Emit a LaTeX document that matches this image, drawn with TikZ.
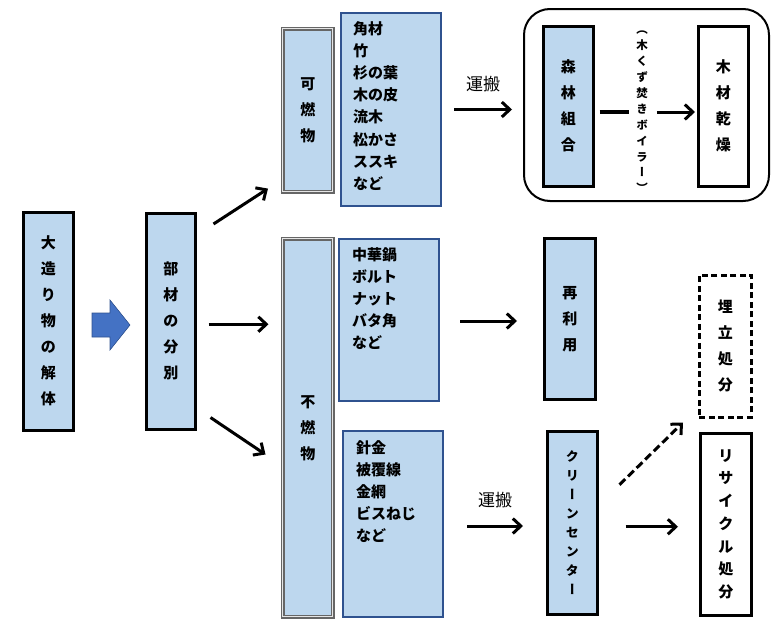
\documentclass[tikz,border=0pt]{standalone}
\usepackage{fontspec}
\newfontfamily\jp{Noto Sans CJK JP}
\newfontfamily\jpv[RawFeature=+vert]{Noto Sans CJK JP}
\usetikzlibrary{arrows.meta,calc}

\definecolor{boxblue}{RGB}{189,215,238}
\definecolor{listedge}{RGB}{47,82,143}
\definecolor{arrowblue}{RGB}{68,114,196}

\tikzset{
	base/.style={anchor=north west, inner sep=0pt, align=center, font=\jp\bfseries\fontsize{15}{26}\selectfont},
	bluebox/.style={base, draw=black, line width=2.5pt, fill=boxblue},
	whitebox/.style={base, draw=black, line width=2.5pt, fill=white},
	kindbox/.style={base, draw=black!60, line width=1.6pt, double=black!10, double distance=0.7pt, fill=boxblue},
	listbox/.style={anchor=north west, draw=listedge, line width=2pt, fill=boxblue},
	listtext/.style={anchor=north west, align=left, inner sep=0pt, font=\jp\bfseries\fontsize{15}{22.2}\selectfont},
	carrylabel/.style={font=\jp\fontsize{17}{19}\selectfont},
	arr/.style={line width=3pt, -{Straight Barb[length=8pt,width=15pt]}},
}

\begin{document}
\begin{tikzpicture}[x=1pt,y=-1pt]
	\useasboundingbox (0,0) rectangle (779,629);

	% left column
	\node[bluebox, minimum width=50pt, minimum height=218pt] (kaitai) at (22,211) {大\\造\\り\\物\\の\\解\\体};
	\node[bluebox, minimum width=49pt, minimum height=216pt] (bunbetsu) at (145,212) {部\\材\\の\\分\\別};
	\fill[arrowblue, draw=listedge, line width=0.6pt] (92,313) -- (110,313) -- (110,300) -- (130,325) -- (110,350) -- (110,337) -- (92,337) -- cycle; % block arrow

	% combustible / non-combustible
	\node[kindbox, minimum width=50pt, minimum height=163pt] (kanen) at (282,28) {可\\燃\\物};
	\node[kindbox, minimum width=50pt, minimum height=378pt] (funen) at (282,238) {不\\燃\\物};

	% item lists
	\node[listbox, minimum width=100pt, minimum height=193pt] (list1) at (340,12) {};
	\node[listtext] (items1) at ($(list1.north west)+(13,9)$) {角材\\竹\\杉の葉\\木の皮\\流木\\松かさ\\ススキ\\など};
	\node[listbox, minimum width=100pt, minimum height=162pt] (list2) at (338,238) {};
	\node[listtext] (items2) at ($(list2.north west)+(14,9)$) {中華鍋\\ボルト\\ナット\\バタ角\\など};
	\node[listbox, minimum width=100pt, minimum height=186pt] (list3) at (342,430) {};
	\node[listtext] (items3) at ($(list3.north west)+(14,10)$) {針金\\被覆線\\金網\\ビスねじ\\など};

	% wood route
	\node[draw, line width=2pt, rounded corners=26pt, anchor=north west, minimum width=245pt, minimum height=192pt] (group) at (523,8) {};
	\node[bluebox, minimum width=50pt, minimum height=160pt] (shinrin) at (542,25) {森\\林\\組\\合};
	\node[whitebox, minimum width=50pt, minimum height=160pt] (mokuzai) at (697,25) {木\\材\\乾\\燥};
	\node[align=center, inner sep=0pt, font=\jpv\bfseries\fontsize{11.5}{15.9}\selectfont] (boiler) at (642,112) {（\\木\\く\\ず\\焚\\き\\ボ\\イ\\ラ\\ー\\）};

	% recycle route
	\node[bluebox, minimum width=51pt, minimum height=161pt] (saiyou) at (543,237) {再\\利\\用};
	\node[bluebox, minimum width=50pt, minimum height=183pt, font=\jpv\bfseries\fontsize{13}{19}\selectfont] (clean) at (546,430) {ク\\リ\\ー\\ン\\セ\\ン\\タ\\ー};
	\node[whitebox, dash pattern=on 6pt off 3.5pt, minimum width=52pt, minimum height=142pt] (umetate) at (698,274) {埋\\立\\処\\分};
	\node[whitebox, minimum width=51pt, minimum height=182pt, font=\jp\bfseries\fontsize{15}{22.7}\selectfont] (recycle) at (699,432) {リ\\サ\\イ\\ク\\ル\\処\\分};

	% connectors
	\draw[arr] ($(bunbetsu.north east)+(17,12)$) -- ($(kanen.south west)+(-14,-4)$);
	\draw[arr] ($(bunbetsu.east)+(12,3)$) -- ($(bunbetsu.east)+(72,3)$);
	\draw[arr] ($(bunbetsu.south east)+(14,-13)$) -- ($(bunbetsu.south east)+(69,24)$);
	\draw[arr] ($(list1.east)+(12,0)$) -- ($(list1.east -| group.west)+(-11,0)$)
		node[midway, above=13pt, carrylabel] (carry1) {運搬};
	\draw[line width=4pt] ($(shinrin.east |- boiler)+(5,0)$) -- ($(boiler.west)+(-7,0)$);
	\draw[arr] ($(boiler.east)+(9,0)$) -- ($(boiler -| mokuzai.west)+(-2,0)$);
	\draw[arr] ($(list2.east)+(20,1)$) -- ($(list2.east -| saiyou.west)+(-26,1)$);
	\draw[arr] ($(list3.east)+(23,2)$) -- ($(list3.east -| clean.west)+(-23,2)$)
		node[midway, above=13pt, carrylabel] (carry2) {運搬};
	\draw[arr, dash pattern=on 8pt off 4pt] ($(clean.east)+(21,-38)$) -- ($(umetate.south west)+(-15,4)$);
	\draw[arr] ($(clean.east)+(27,4)$) -- ($(clean.east -| recycle.west)+(-21,4)$);
\end{tikzpicture}
\end{document}
